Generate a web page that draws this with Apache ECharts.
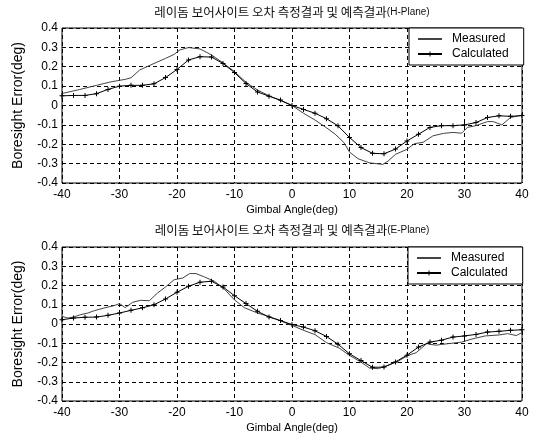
<!DOCTYPE html>
<html><head><meta charset="utf-8">
<script src="https://cdn.jsdelivr.net/npm/echarts@6/dist/echarts.min.js"></script>
<style>html,body{margin:0;padding:0;background:#fff}#c{width:539px;height:438px}</style>
</head><body><div id="c"></div>
<script>
const titleKo = '레이돔 보어사이트 오차 측정결과 및 예측결과';
const planeLabels = ['(H-Plane)', '(E-Plane)'];
const xAxisName = 'Gimbal Angle(deg)';
const yAxisName = 'Boresight Error(deg)';
const seriesNames = ['Measured', 'Calculated'];

const calcAngles = [-40,-38,-36,-34,-32,-30,-28,-26,-24,-22,-20,-18,-16,-14,-12,-10,-8,-6,-4,-2,0,2,4,6,8,10,12,14,16,18,20,22,24,26,28,30,32,34,36,38,40];

// H-Plane
const hCalculated = [0.05,0.052,0.052,0.061,0.083,0.10,0.104,0.104,0.112,0.144,0.186,0.235,0.252,0.25,0.217,0.17,0.113,0.07,0.048,0.028,0.0,-0.02,-0.04,-0.068,-0.105,-0.165,-0.217,-0.247,-0.249,-0.225,-0.183,-0.148,-0.113,-0.104,-0.104,-0.10,-0.088,-0.062,-0.053,-0.056,-0.052];
const hMeasuredAngles = [-40,-37,-34,-31.5,-29,-28,-26.5,-24,-22,-20.5,-19.5,-18,-16,-14,-12,-10,-8,-6,-4,-2,0,2,4,6,7.5,9,10,11.5,13.5,15.8,16.7,18,20,21.3,22.8,24.5,26.3,28,29.5,30.5,32,34,35,36.5,38,40];
const hMeasured = [0.062,0.082,0.104,0.122,0.135,0.143,0.183,0.217,0.243,0.264,0.287,0.299,0.292,0.261,0.22,0.175,0.12,0.08,0.05,0.025,0.0,-0.04,-0.075,-0.115,-0.148,-0.19,-0.24,-0.275,-0.296,-0.304,-0.287,-0.252,-0.226,-0.197,-0.19,-0.157,-0.144,-0.139,-0.143,-0.113,-0.104,-0.083,-0.083,-0.10,-0.062,-0.05];

// E-Plane
const eCalculated = [0.022,0.031,0.035,0.036,0.045,0.057,0.071,0.084,0.10,0.13,0.165,0.196,0.217,0.222,0.192,0.147,0.106,0.066,0.036,0.018,-0.003,-0.016,-0.035,-0.065,-0.105,-0.155,-0.19,-0.225,-0.224,-0.197,-0.162,-0.12,-0.094,-0.084,-0.068,-0.062,-0.054,-0.042,-0.038,-0.033,-0.03];
const eMeasuredAngles = [-40,-39,-38,-36.7,-35.5,-34.4,-32.7,-31,-30,-29,-27.7,-26.3,-24.8,-23.4,-22,-20.5,-19,-17.8,-16.7,-15.2,-13.5,-11.7,-10,-8.3,-6,-3.6,-2,0,2,4,6,8.2,10,12,13.5,15,16.7,18.4,20.2,21.6,23.4,25,27.2,29.5,31.3,33.6,36,37.5,39,40];
const eMeasured = [0.04,0.031,0.036,0.049,0.057,0.069,0.083,0.095,0.106,0.085,0.113,0.123,0.121,0.161,0.192,0.23,0.239,0.262,0.262,0.244,0.222,0.179,0.125,0.085,0.057,0.035,0.016,-0.007,-0.033,-0.055,-0.097,-0.125,-0.163,-0.198,-0.229,-0.232,-0.215,-0.194,-0.163,-0.149,-0.102,-0.11,-0.102,-0.094,-0.078,-0.062,-0.057,-0.05,-0.06,-0.045];

const xMin = -40, xMax = 40, xStep = 10;
const yMin = -0.4, yMax = 0.4, yStep = 0.1;

const LAT = "'Liberation Sans', Arial, sans-serif";
const KO = "'Noto Sans CJK KR', sans-serif";
const plus = 'path://M2,0H3V2H5V3H3V5H2V3H0V2H2Z';

const zip = (xs, ys) => xs.map((x, i) => [x, ys[i]]);

const grids = [
  {left: 62, top: 28, width: 460, height: 155, show: true, borderColor: '#000', borderWidth: 1, backgroundColor: '#fff'},
  {left: 62, top: 247, width: 460, height: 154, show: true, borderColor: '#000', borderWidth: 1, backgroundColor: '#fff'}
];
const dash = {show: true, lineStyle: {color: '#000', width: 1, type: [4, 3]}};

const xAxes = [0, 1].map(i => ({
  type: 'value', gridIndex: i, min: xMin, max: xMax, interval: xStep,
  axisLine: {show: false}, axisTick: {show: false}, splitLine: dash,
  axisLabel: {color: '#000', fontFamily: LAT, fontSize: 12, margin: 6},
  name: xAxisName, nameLocation: 'middle', nameGap: 21,
  nameTextStyle: {color: '#000', fontFamily: LAT, fontSize: 11}
}));
const yAxes = [0, 1].map(i => ({
  type: 'value', gridIndex: i, min: yMin, max: yMax, interval: yStep,
  axisLine: {show: false}, axisTick: {show: false}, splitLine: dash,
  axisLabel: {color: '#000', fontFamily: LAT, fontSize: 12, margin: 4,
    formatter: v => String(Math.round(v * 10) / 10)},
  name: yAxisName, nameLocation: 'middle', nameGap: 37,
  nameTextStyle: {color: '#000', fontFamily: LAT, fontSize: 14}
}));

const mkMeasured = (i, data) => ({
  name: seriesNames[0], type: 'line', xAxisIndex: i, yAxisIndex: i, data,
  symbol: 'none', lineStyle: {color: '#444', width: 1}, itemStyle: {color: '#444'}, z: 3
});
const mkCalc = (i, data) => ({
  name: seriesNames[1], type: 'line', xAxisIndex: i, yAxisIndex: i, data,
  symbol: plus, symbolSize: 5, showSymbol: true,
  lineStyle: {color: '#000', width: 1}, itemStyle: {color: '#000'}, z: 4
});

const mkLegend = (left, top) => ({
  orient: 'vertical', left, top, padding: [5, 15, 5, 8], itemGap: 3,
  itemWidth: 24, itemHeight: 6, backgroundColor: '#fff', borderColor: '#000', borderWidth: 1,
  textStyle: {color: '#000', fontFamily: LAT, fontSize: 12, padding: [0, 0, 0, 5]},
  data: [{name: seriesNames[0], itemStyle: {opacity: 0}}, {name: seriesNames[1]}],
  selectedMode: false, z: 10
});

const mkTitle = (top, plane) => ({
  text: '{a|' + titleKo + '}{b|' + plane + '}',
  left: 292, top, textAlign: 'center', padding: 0,
  textStyle: {fontWeight: 'normal', rich: {
    a: {fontFamily: KO, fontSize: 12.5, fontWeight: 'normal', color: '#111'},
    b: {fontFamily: LAT, fontSize: 10, fontWeight: 'normal', color: '#111'}
  }}
});

const chart = echarts.init(document.getElementById('c'));
chart.setOption({
  animation: false,
  backgroundColor: '#fff',
  title: [mkTitle(6, planeLabels[0]), mkTitle(224, planeLabels[1])],
  grid: grids,
  xAxis: xAxes,
  yAxis: yAxes,
  legend: [mkLegend(409, 28), mkLegend(408, 247)],
  series: [
    mkMeasured(0, zip(hMeasuredAngles, hMeasured)),
    mkCalc(0, zip(calcAngles, hCalculated)),
    mkMeasured(1, zip(eMeasuredAngles, eMeasured)),
    mkCalc(1, zip(calcAngles, eCalculated))
  ]
});
</script></body></html>
